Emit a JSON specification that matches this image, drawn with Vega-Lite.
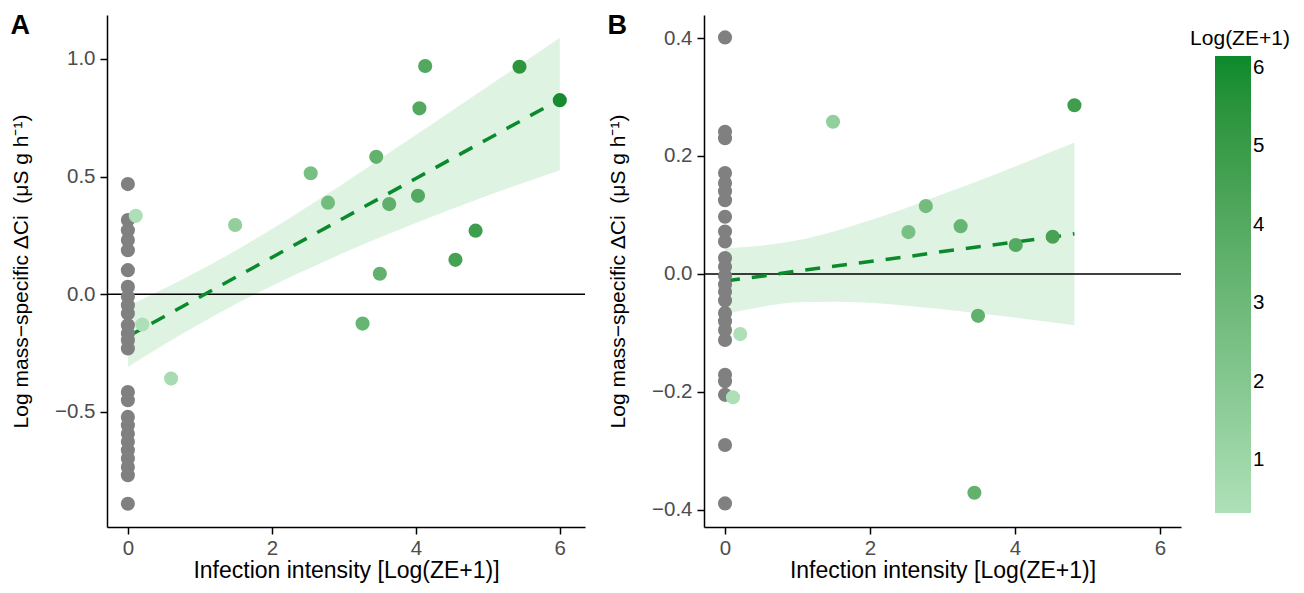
{
  "$schema": "https://vega.github.io/schema/vega-lite/v6.json",
  "padding": {"left": 10, "top": 12, "right": 5, "bottom": 5},
  "autosize": {"type": "pad"},
  "config": {
    "view": {"stroke": null},
    "font": "Liberation Sans",
    "axis": {"grid": false, "domainColor": "black", "domainWidth": 1.5, "tickColor": "black", "tickWidth": 1.5, "tickSize": 7, "labelFontSize": 20.5, "labelColor": "#4d4d4d", "titleFontSize": 23, "titleFontWeight": "normal", "titleColor": "black", "labelPadding": 4, "labelFlush": false},
    "axisY": {"titlePadding": 23, "titleFontSize": 21, "labelPadding": 5},
    "axisX": {"titlePadding": 1},
    "legend": {"titleFontSize": 21, "titleFontWeight": "normal", "titleColor": "black", "labelFontSize": 20.5, "labelColor": "black", "gradientLength": 457, "gradientThickness": 36, "gradientStrokeWidth": 0, "labelOffset": 10, "titlePadding": 7, "labelOverlap": false, "offset": -5, "padding": 13},
    "title": {"fontSize": 27, "fontWeight": "bold", "color": "black", "anchor": "start", "frame": "bounds"}
  },
  "datasets": {
    "a_gray": [
      {"x": 0, "y": 0.468}, {"x": 0, "y": 0.315}, {"x": 0, "y": 0.272}, {"x": 0, "y": 0.23}, {"x": 0, "y": 0.187},
      {"x": 0, "y": 0.102}, {"x": 0, "y": 0.031}, {"x": 0, "y": -0.011}, {"x": 0, "y": -0.047}, {"x": 0, "y": -0.082},
      {"x": 0, "y": -0.132}, {"x": 0, "y": -0.167}, {"x": 0, "y": -0.196}, {"x": 0, "y": -0.231}, {"x": 0, "y": -0.416},
      {"x": 0, "y": -0.451}, {"x": 0, "y": -0.522}, {"x": 0, "y": -0.557}, {"x": 0, "y": -0.593}, {"x": 0, "y": -0.628},
      {"x": 0, "y": -0.664}, {"x": 0, "y": -0.699}, {"x": 0, "y": -0.735}, {"x": 0, "y": -0.77}, {"x": 0, "y": -0.891}
    ],
    "a_green": [
      {"x": 0.11, "y": 0.333}, {"x": 0.2, "y": -0.129}, {"x": 0.6, "y": -0.359}, {"x": 1.49, "y": 0.294},
      {"x": 2.54, "y": 0.514}, {"x": 2.78, "y": 0.389}, {"x": 3.26, "y": -0.125}, {"x": 3.45, "y": 0.584},
      {"x": 3.5, "y": 0.087}, {"x": 3.63, "y": 0.383}, {"x": 4.03, "y": 0.418}, {"x": 4.05, "y": 0.79},
      {"x": 4.13, "y": 0.97}, {"x": 4.55, "y": 0.146}, {"x": 4.83, "y": 0.27}, {"x": 5.44, "y": 0.967},
      {"x": 6.0, "y": 0.825}
    ],
    "a_fit": [
      {"x": 0, "lo": -0.31, "hi": -0.05, "fit": -0.18},
      {"x": 0.5, "lo": -0.215, "hi": 0.023, "fit": -0.096},
      {"x": 1, "lo": -0.126, "hi": 0.102, "fit": -0.012},
      {"x": 1.5, "lo": -0.042, "hi": 0.186, "fit": 0.072},
      {"x": 2, "lo": 0.035, "hi": 0.277, "fit": 0.156},
      {"x": 2.5, "lo": 0.107, "hi": 0.373, "fit": 0.24},
      {"x": 3, "lo": 0.176, "hi": 0.472, "fit": 0.324},
      {"x": 3.5, "lo": 0.241, "hi": 0.575, "fit": 0.408},
      {"x": 4, "lo": 0.303, "hi": 0.677, "fit": 0.492},
      {"x": 4.5, "lo": 0.362, "hi": 0.78, "fit": 0.576},
      {"x": 5, "lo": 0.42, "hi": 0.883, "fit": 0.66},
      {"x": 5.5, "lo": 0.474, "hi": 0.986, "fit": 0.744},
      {"x": 6, "lo": 0.527, "hi": 1.09, "fit": 0.828}
    ],
    "b_gray": [
      {"x": 0, "y": 0.401}, {"x": 0, "y": 0.241}, {"x": 0, "y": 0.23}, {"x": 0, "y": 0.171}, {"x": 0, "y": 0.154},
      {"x": 0, "y": 0.14}, {"x": 0, "y": 0.125}, {"x": 0, "y": 0.097}, {"x": 0, "y": 0.072}, {"x": 0, "y": 0.055},
      {"x": 0, "y": 0.027}, {"x": 0, "y": 0.012}, {"x": 0, "y": -0.003}, {"x": 0, "y": -0.018}, {"x": 0, "y": -0.03},
      {"x": 0, "y": -0.045}, {"x": 0, "y": -0.066}, {"x": 0, "y": -0.08}, {"x": 0, "y": -0.095}, {"x": 0, "y": -0.112},
      {"x": 0, "y": -0.171}, {"x": 0, "y": -0.182}, {"x": 0, "y": -0.205}, {"x": 0, "y": -0.29}, {"x": 0, "y": -0.389}
    ],
    "b_green": [
      {"x": 0.21, "y": -0.102}, {"x": 0.11, "y": -0.209}, {"x": 1.49, "y": 0.258}, {"x": 2.53, "y": 0.071},
      {"x": 2.77, "y": 0.115}, {"x": 3.25, "y": 0.081}, {"x": 3.49, "y": -0.071}, {"x": 3.44, "y": -0.371},
      {"x": 4.01, "y": 0.049}, {"x": 4.52, "y": 0.063}, {"x": 4.82, "y": 0.286}
    ],
    "b_fit": [
      {"x": 0, "lo": -0.068, "hi": 0.044, "fit": -0.012},
      {"x": 0.5, "lo": -0.056, "hi": 0.048, "fit": -0.004},
      {"x": 1, "lo": -0.048, "hi": 0.057, "fit": 0.005},
      {"x": 1.5, "lo": -0.047, "hi": 0.072, "fit": 0.013},
      {"x": 2, "lo": -0.049, "hi": 0.091, "fit": 0.021},
      {"x": 2.5, "lo": -0.054, "hi": 0.112, "fit": 0.029},
      {"x": 3, "lo": -0.06, "hi": 0.135, "fit": 0.038},
      {"x": 3.5, "lo": -0.067, "hi": 0.158, "fit": 0.046},
      {"x": 4, "lo": -0.074, "hi": 0.182, "fit": 0.054},
      {"x": 4.5, "lo": -0.082, "hi": 0.207, "fit": 0.062},
      {"x": 4.82, "lo": -0.087, "hi": 0.223, "fit": 0.068}
    ],
    "zero": [{"y": 0}]
  },
  "spacing": 21,
  "resolve": {"scale": {"color": "shared"}},
  "hconcat": [
    {
      "width": 478,
      "height": 512,
      "title": {"text": "A", "offset": -25},
      "layer": [
        {
          "data": {"name": "a_fit"},
          "mark": {"type": "area", "color": "#dff3e3", "interpolate": "monotone"},
          "encoding": {
            "x": {"field": "x", "type": "quantitative", "scale": {"domain": [-0.29, 6.35], "nice": false, "zero": false}, "axis": {"values": [0, 2, 4, 6], "format": "d", "title": "Infection intensity [Log(ZE+1)]"}},
            "y": {"field": "lo", "type": "quantitative", "scale": {"domain": [-0.99, 1.187], "nice": false, "zero": false}, "axis": {"values": [-0.5, 0, 0.5, 1], "format": ".1f", "title": "Log mass\u2212specific \u0394Ci\u00a0 (\u03bcS g h\u207b\u00b9)"}},
            "y2": {"field": "hi"}
          }
        },
        {
          "data": {"name": "zero"},
          "mark": {"type": "rule", "color": "black", "strokeWidth": 1.5},
          "encoding": {"y": {"field": "y", "type": "quantitative"}}
        },
        {
          "data": {"name": "a_fit"},
          "mark": {"type": "line", "color": "#0b8a2b", "strokeWidth": 3.5, "strokeDash": [15, 12]},
          "encoding": {"x": {"field": "x", "type": "quantitative"}, "y": {"field": "fit", "type": "quantitative"}}
        },
        {
          "data": {"name": "a_gray"},
          "mark": {"type": "circle", "color": "#808080", "opacity": 1, "size": 200},
          "encoding": {"x": {"field": "x", "type": "quantitative"}, "y": {"field": "y", "type": "quantitative"}}
        },
        {
          "data": {"name": "a_green"},
          "mark": {"type": "circle", "opacity": 1, "size": 200},
          "encoding": {
            "x": {"field": "x", "type": "quantitative"},
            "y": {"field": "y", "type": "quantitative"},
            "color": {"field": "x", "type": "quantitative", "scale": {"domain": [0.33, 6.15], "range": ["#aee0b8", "#0b8a2b"], "clamp": true}, "legend": {"title": "Log(ZE+1)", "values": [1, 2, 3, 4, 5, 6], "titleAnchor": "middle"}}
          }
        }
      ]
    },
    {
      "width": 477,
      "height": 512,
      "title": {"text": "B", "offset": -25},
      "layer": [
        {
          "data": {"name": "b_fit"},
          "mark": {"type": "area", "color": "#dff3e3", "interpolate": "monotone"},
          "encoding": {
            "x": {"field": "x", "type": "quantitative", "scale": {"domain": [-0.29, 6.29], "nice": false, "zero": false}, "axis": {"values": [0, 2, 4, 6], "format": "d", "title": "Infection intensity [Log(ZE+1)]"}},
            "y": {"field": "lo", "type": "quantitative", "scale": {"domain": [-0.429, 0.439], "nice": false, "zero": false}, "axis": {"values": [-0.4, -0.2, 0, 0.2, 0.4], "format": ".1f", "title": "Log mass\u2212specific \u0394Ci\u00a0 (\u03bcS g h\u207b\u00b9)"}},
            "y2": {"field": "hi"}
          }
        },
        {
          "data": {"name": "zero"},
          "mark": {"type": "rule", "color": "black", "strokeWidth": 1.5},
          "encoding": {"y": {"field": "y", "type": "quantitative"}}
        },
        {
          "data": {"name": "b_fit"},
          "mark": {"type": "line", "color": "#0b8a2b", "strokeWidth": 3.5, "strokeDash": [15, 12]},
          "encoding": {"x": {"field": "x", "type": "quantitative"}, "y": {"field": "fit", "type": "quantitative"}}
        },
        {
          "data": {"name": "b_gray"},
          "mark": {"type": "circle", "color": "#808080", "opacity": 1, "size": 200},
          "encoding": {"x": {"field": "x", "type": "quantitative"}, "y": {"field": "y", "type": "quantitative"}}
        },
        {
          "data": {"name": "b_green"},
          "mark": {"type": "circle", "opacity": 1, "size": 200},
          "encoding": {
            "x": {"field": "x", "type": "quantitative"},
            "y": {"field": "y", "type": "quantitative"},
            "color": {"field": "x", "type": "quantitative", "scale": {"domain": [0.33, 6.15], "range": ["#aee0b8", "#0b8a2b"], "clamp": true}, "legend": {"title": "Log(ZE+1)", "values": [1, 2, 3, 4, 5, 6], "titleAnchor": "middle"}}
          }
        }
      ]
    }
  ]
}
